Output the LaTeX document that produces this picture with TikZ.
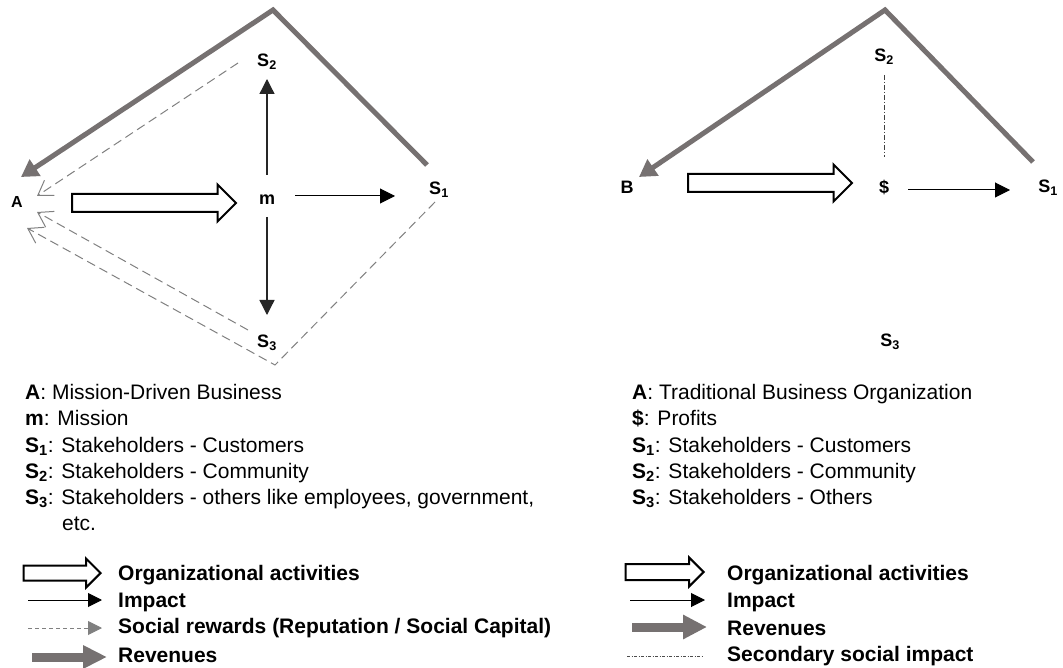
\documentclass[tikz,border=0pt]{standalone}
\usepackage{fontspec}
\setmainfont{Liberation Sans}
\usetikzlibrary{arrows.meta,shapes.arrows}
\definecolor{revgray}{RGB}{118,113,113}
\definecolor{rewgray}{RGB}{128,128,128}

\tikzset{
  lbl/.style={font=\bfseries\fontsize{18}{18}\selectfont, inner sep=0pt},
  keytext/.style={font=\fontsize{21}{26.3}\selectfont, inner sep=0pt, align=left, anchor=north west},
  keyname/.style={font=\bfseries\fontsize{21}{21}\selectfont, inner sep=0pt, anchor=west},
  impact/.style={line width=1pt, -{Triangle[length=15pt,width=15pt]}},
  revenue/.style={revgray, line width=5pt, -{Triangle[length=17pt,width=19pt]}},
  reward/.style={rewgray, line width=1pt, dash pattern=on 9pt off 5pt, -{Straight Barb[length=14pt,width=18pt]}},
  secondary/.style={black!75, line width=1pt, dash pattern=on 5pt off 2pt on 1pt off 2pt},
  orgact/.style={single arrow, draw, line width=2pt, fill=white, inner xsep=0pt, inner ysep=8pt,
    minimum width=35pt, single arrow head extend=9.5pt, single arrow head indent=0pt}
}

\begin{document}
\begin{tikzpicture}[x=1pt,y=-1pt]
    \useasboundingbox (0,0) rectangle (1063,668);
    % Mission-driven business
    \coordinate (topA) at (273,10);
    \coordinate (lowA) at (275,365);
    \node[lbl, font=\bfseries\fontsize{16}{16}\selectfont] (A) at (17,202) {A};
    \node[lbl] (m) at (267,200) {m};
    \node[lbl] (sA1) at (439,190) {S\textsubscript{1}};
    \node[lbl] (sA2) at (267,62) {S\textsubscript{2}};
    \node[lbl] (sA3) at (267,343) {S\textsubscript{3}};
    \node[orgact, minimum height=164pt, anchor=tail] (actA) at ([shift={(54,1)}]A.center) {};
    \draw[impact, line width=1.3pt, black!85] ([shift={(0,-25)}]m.center) -- ([shift={(0,17)}]sA2.center);
    \draw[impact, line width=1.3pt, black!85] ([shift={(0,17)}]m.center) -- ([shift={(0,-28)}]sA3.center);
    \draw[impact] ([shift={(28,-4)}]m.center) -- ([shift={(-44,6)}]sA1.center);
    % revenues and social rewards back to A
    \draw[revenue] ([shift={(-12,-25)}]sA1.center) -- (topA) -- ([shift={(4,-25)}]A.center);
    \draw[reward] ([shift={(-29,1)}]sA2.center) -- ([shift={(20,-6)}]A.center);
    \draw[reward] ([shift={(-19,-13)}]sA3.center) -- ([shift={(20,10)}]A.center);
    \draw[reward] ([shift={(-4,12)}]sA1.center) -- (lowA) -- ([shift={(10,26)}]A.center);

    % Traditional business
    \coordinate (topB) at (885,10);
    \node[lbl] (B) at (627,187) {B};
    \node[lbl] (dol) at (884,187) {\$};
    \node[lbl] (sB1) at (1048,188) {S\textsubscript{1}};
    \node[lbl] (sB2) at (884,57) {S\textsubscript{2}};
    \node[lbl] (sB3) at (890,342) {S\textsubscript{3}};
    \node[orgact, minimum height=164pt, anchor=tail] (actB) at ([shift={(60,-4)}]B.center) {};
    \draw[secondary] ([shift={(0,18)}]sB2.center) -- ([shift={(0,-30)}]dol.center);
    \draw[impact] ([shift={(24,3)}]dol.center) -- ([shift={(-38,2)}]sB1.center);
    \draw[revenue] ([shift={(-15,-26)}]sB1.center) -- (topB) -- ([shift={(12,-10)}]B.center);

    % Keys
    \node[keytext] (keyA) at (25,384) {\textbf{A}: Mission-Driven Business\\
      \textbf{m}: Mission\\
      \textbf{S\textsubscript{1}}: Stakeholders - Customers\\
      \textbf{S\textsubscript{2}}: Stakeholders - Community\\
      \textbf{S\textsubscript{3}}: Stakeholders - others like employees, government,\\
      \hspace*{37pt}etc.};
    \node[keytext] (keyB) at (632,384) {\textbf{A}: Traditional Business Organization\\
      \textbf{\$}: Profits\\
      \textbf{S\textsubscript{1}}: Stakeholders - Customers\\
      \textbf{S\textsubscript{2}}: Stakeholders - Community\\
      \textbf{S\textsubscript{3}}: Stakeholders - Others};

    % Legend, left
    \node[keyname] (orgA) at (118,575) {Organizational activities};
    \node[keyname] (impA) at (118,602) {Impact};
    \node[keyname] (rewA) at (118,628) {Social rewards (Reputation / Social Capital)};
    \node[keyname] (revA) at (118,655) {Revenues};
    \node[orgact, inner ysep=6.5pt, minimum width=27pt, single arrow head extend=7pt,
      minimum height=77pt, anchor=tip] (orgAk) at ([shift={(-16,-2)}]orgA.west) {};
    \draw[impact, -{Triangle[length=14pt,width=14pt]}] ([shift={(-90,-2)}]impA.west) -- ([shift={(-16,-2)}]impA.west);
    \draw[rewgray, line width=1pt, dash pattern=on 4pt off 3pt, -{Triangle[length=14pt,width=14pt]}]
      ([shift={(-90,0)}]rewA.west) -- ([shift={(-16,0)}]rewA.west);
    \draw[revgray, line width=9pt, -{Triangle[length=24pt,width=22pt]}]
      ([shift={(-86,2)}]revA.west) -- ([shift={(-11,2)}]revA.west);

    % Legend, right
    \node[keyname] (orgB) at (727,575) {Organizational activities};
    \node[keyname] (impB) at (727,602) {Impact};
    \node[keyname] (revB) at (727,628) {Revenues};
    \node[keyname] (secB) at (727,656) {Secondary social impact};
    \node[orgact, inner ysep=7pt, minimum width=27pt, single arrow head extend=6.5pt,
      minimum height=78pt, anchor=tip] (orgBk) at ([shift={(-22,-3)}]orgB.west) {};
    \draw[impact, -{Triangle[length=14pt,width=14pt]}] ([shift={(-97,-2)}]impB.west) -- ([shift={(-22,-2)}]impB.west);
    \draw[revgray, line width=9pt, -{Triangle[length=24pt,width=23pt]}]
      ([shift={(-95,-1)}]revB.west) -- ([shift={(-20,-1)}]revB.west);
    \draw[black!70, line width=0.8pt, dash pattern=on 3pt off 1.5pt on 1pt off 1.5pt]
      ([shift={(-100,0)}]secB.west) -- ([shift={(-24,0)}]secB.west);
\end{tikzpicture}
\end{document}
